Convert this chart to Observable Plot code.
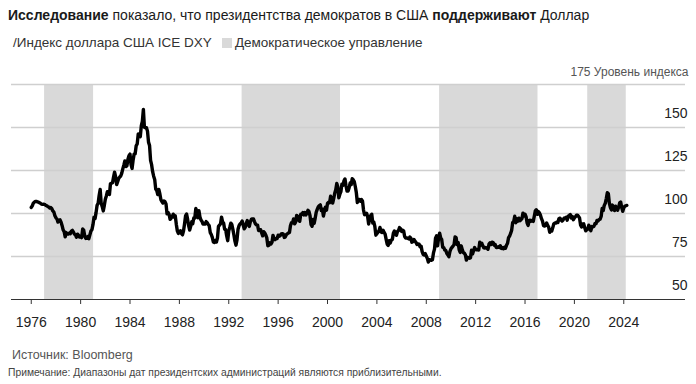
<!DOCTYPE html>
<html><head><meta charset="utf-8">
<script src="https://cdn.jsdelivr.net/npm/d3@7"></script>
<script src="https://cdn.jsdelivr.net/npm/@observablehq/plot@0.6"></script>
<style>
body{margin:0;background:#fff;font-family:"Liberation Sans",Arial,sans-serif;color:#222;width:696px;height:384px;overflow:hidden}
#title{height:30px;line-height:30px;padding-left:8px;font-size:14px;color:#1a1a1a;white-space:nowrap}
#legend{height:26px;line-height:26px;padding-left:13px;font-size:13.5px;color:#333;display:flex;align-items:center;white-space:nowrap}
.sw{display:inline-block;width:10px;height:10px;background:#d9d9d9;margin:0 3px 0 10px}
#source{margin-top:10px;height:18px;line-height:18px;padding-left:12px;font-size:12.5px;color:#555}
#note{height:18px;line-height:18px;padding-left:8px;font-size:10.3px;color:#444;white-space:nowrap}
</style></head>
<body>
<div id="title"><b>Исследование</b> показало, что президентства демократов в США <b>поддерживают</b> Доллар</div>
<div id="legend"><span>/Индекс доллара США ICE DXY</span><span class="sw"></span><span>Демократическое управление</span></div>
<div id="chart"></div>
<div id="source">Источник: Bloomberg</div>
<div id="note">Примечание: Диапазоны дат президентских администраций являются приблизительными.</div>
<script>
// Monthly ICE DXY values, January 1976 onward
const dxy1976_1985 = [
  103.5,104.5,106.0,106.6,107.0,107.0,106.8,106.6,106.2,105.9,105.5,105.3,
  105.4,105.3,104.8,104.5,104.1,103.8,103.2,103.5,102.8,101.5,100.8,98.7,
  97.5,96.8,95.0,95.8,96.3,95.0,92.9,90.5,89.5,86.4,88.9,88.3,
  88.0,88.6,88.3,89.8,90.2,89.2,88.0,87.6,86.2,88.0,87.3,86.3,
  86.7,86.0,91.0,90.3,87.0,85.5,85.6,86.6,85.4,87.6,89.8,90.6,
  93.5,97.8,97.0,100.5,104.8,105.9,110.5,114.0,105.9,104.0,101.5,104.6,
  108.3,110.2,112.7,111.3,111.0,117.3,117.6,117.9,121.2,124.0,121.4,116.8,
  118.5,120.4,121.2,121.8,123.5,125.9,128.1,130.6,127.3,127.7,131.5,133.6,
  134.5,128.5,126.2,131.0,134.5,134.7,139.4,140.5,146.3,145.9,144.7,151.1,
  153.6,160.5,150.1,149.8,149.9,147.9,141.5,139.6,130.9,128.4,124.3,121.7
];
const dxy1986_1995 = [
  119.8,114.2,113.3,111.0,114.0,111.5,108.1,107.0,106.1,107.3,106.9,105.6,
  99.8,100.6,99.5,96.6,97.3,98.2,99.6,97.9,98.6,93.8,89.9,88.4,
  89.5,90.0,88.4,87.6,89.8,93.9,98.6,99.7,96.7,92.9,90.4,92.5,
  95.2,94.1,97.4,97.4,102.9,100.6,97.5,101.6,97.9,96.2,95.4,93.8,
  93.8,93.9,95.3,94.7,93.6,92.9,88.9,87.8,86.1,83.5,83.2,84.3,
  83.4,85.7,92.5,93.2,94.0,97.9,95.1,94.4,90.8,90.6,87.0,84.2,
  89.9,92.0,94.4,93.6,90.8,87.5,83.9,81.6,84.7,90.8,92.9,93.9,
  94.5,95.6,93.4,91.1,92.0,94.3,95.9,93.4,92.5,95.2,96.6,96.9,
  96.8,95.3,93.9,93.4,93.2,90.1,90.5,90.6,88.7,87.0,89.4,88.7,
  87.5,85.8,81.2,81.5,83.0,82.3,83.2,87.3,85.6,84.8,85.5,85.4
];
const dxy1996_2005 = [
  87.4,86.8,87.1,88.1,88.2,88.1,86.1,86.4,87.7,88.2,88.7,88.9,
  93.0,94.7,94.6,96.8,94.0,95.0,98.9,98.4,96.1,95.5,99.6,99.6,
  100.5,99.2,100.5,99.2,100.3,101.9,101.1,98.7,93.5,92.6,96.5,94.2,
  97.2,100.7,102.4,103.9,104.6,105.0,101.7,102.6,98.5,101.2,103.7,101.9,
  106.0,106.5,106.2,110.0,108.6,106.1,108.6,111.8,113.8,117.5,115.4,109.1,
  111.2,112.7,117.1,116.3,119.0,120.1,116.0,113.0,113.1,115.0,117.7,116.8,
  120.2,119.6,118.6,115.7,112.2,106.4,108.2,108.2,107.1,108.1,107.3,102.0,
  99.3,99.6,100.1,98.2,93.9,96.8,98.8,99.6,94.5,95.0,92.5,87.4,
  88.3,89.1,89.9,91.9,89.3,89.0,90.3,89.0,88.0,85.0,82.2,81.4,
  84.2,82.8,84.6,84.9,88.5,89.8,88.7,87.4,89.5,90.1,91.8,91.2
];
const dxy2006_2015 = [
  89.6,90.3,89.9,86.6,85.7,85.8,85.6,85.2,86.3,85.7,83.3,83.7,
  84.9,83.9,83.2,82.0,82.3,82.2,80.6,81.0,77.8,76.2,75.9,76.7,
  75.3,73.9,71.8,73.1,73.0,72.8,73.1,77.1,79.3,85.6,87.0,81.2,
  85.9,88.6,85.8,84.9,80.3,80.2,78.7,78.5,76.7,75.9,74.9,77.9,
  79.5,80.3,81.0,81.9,86.4,86.0,81.9,83.1,78.9,77.4,81.2,79.0,
  77.3,76.9,75.9,72.9,74.6,74.3,74.0,74.2,78.6,76.5,78.3,80.2,
  79.0,78.9,78.9,78.8,83.3,81.6,82.7,81.2,80.0,79.9,80.2,79.8,
  79.2,82.2,83.0,82.0,83.3,83.1,81.6,82.0,80.2,80.2,80.7,80.2,
  81.3,79.7,80.1,79.5,80.4,79.8,81.5,82.7,86.0,86.9,88.4,90.3,
  94.8,95.3,98.4,94.6,96.9,95.5,97.3,95.8,96.4,97.0,100.2,98.6
];
const dxy2016_2024 = [
  99.6,98.2,94.6,93.1,95.9,96.1,95.5,96.0,95.4,98.4,101.5,102.2,
  99.5,101.1,100.4,99.0,97.0,95.6,92.9,92.7,93.1,94.5,93.1,92.1,
  89.1,90.6,89.8,91.8,94.0,94.5,94.5,95.1,94.8,97.1,97.3,96.2,
  95.6,96.2,97.3,97.5,97.8,96.1,98.5,98.9,99.4,97.4,98.3,96.4,
  97.4,98.1,99.0,99.0,98.3,97.4,93.3,92.1,93.9,94.0,91.9,89.9,
  90.6,90.9,93.2,91.3,90.0,92.4,92.2,92.6,94.2,94.1,96.0,95.7,
  96.5,96.7,98.3,103.0,101.7,104.7,105.9,108.7,112.1,111.5,105.9,103.5,
  102.1,104.9,102.5,101.7,104.3,102.9,101.9,103.6,106.2,106.7,103.5,101.3,
  103.3,104.2,104.5,104.7
];
const startYear = 1976;

// Democratic administrations (approximate)
const demStart = [1977.08, 1993.08, 2009.08, 2021.08];
const demEnd   = [1981.05, 2001.05, 2017.05, 2024.2];

const xTicks = [1976,1980,1984,1988,1992,1996,2000,2004,2008,2012,2016,2020,2024];
const yTicks = [50,75,100,125,150];
const yTop = 175;
const yTopLabel = "Уровень индекса";

const values = [...dxy1976_1985, ...dxy1986_1995, ...dxy1996_2005, ...dxy2006_2015, ...dxy2016_2024];
const series = values.map((v, i) => ({t: startYear + i / 12, v}));
const periods = demStart.map((s, i) => ({s, e: demEnd[i]}));

const chart = Plot.plot({
  width: 696, height: 280,
  marginTop: 28, marginBottom: 37, marginLeft: 11, marginRight: 11,
  x: {domain: [1974.4, 2029.0], label: null},
  y: {domain: [50, 175], label: null},
  style: {fontFamily: "'Liberation Sans', Arial, sans-serif", fontSize: "14px", color: "#222", background: "white", overflow: "visible"},
  marks: [
    Plot.rect(periods, {x1: "s", x2: "e", y1: () => 50, y2: () => yTop, fill: "#d9d9d9"}),
    Plot.ruleY([...yTicks.slice(1), yTop], {stroke: "#cfcfcf", strokeWidth: 1.5}),
    Plot.ruleY([50], {stroke: "#333", strokeWidth: 1.2}),
    Plot.line(series, {x: "t", y: "v", stroke: "#000", strokeWidth: 3.4, strokeLinejoin: "round", strokeLinecap: "round"}),
    Plot.axisX({ticks: xTicks, tickFormat: d => String(d), tickSize: 5, tickPadding: 13, stroke: "#333", fontSize: 14, label: null}),
    Plot.axisY({ticks: yTicks, anchor: "right", tickSize: 0, tickPadding: 2, textAnchor: "end", dy: -14, fontSize: 14, fill: "#222", label: null}),
    Plot.axisY({ticks: [yTop], anchor: "right", tickSize: 0, tickPadding: 3, textAnchor: "end", dy: -12, fontSize: 12, fill: "#555", tickFormat: d => d + " " + yTopLabel, label: null})
  ]
});
document.getElementById("chart").appendChild(chart);
</script>
</body></html>
